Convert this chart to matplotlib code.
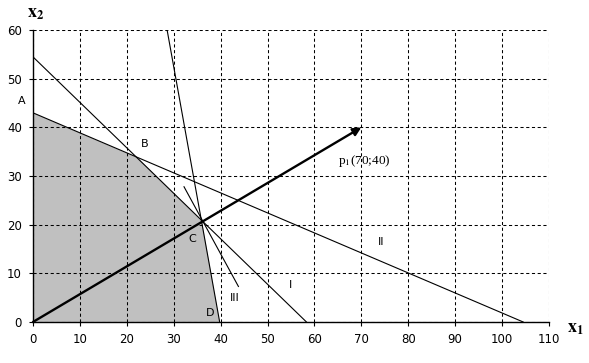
import matplotlib
matplotlib.use("Agg")
import matplotlib.pyplot as plt

plt.rcParams["mathtext.fontset"] = "stix"

# constraint lines (endpoints)
line_I_x = [0, 58.3]
line_I_y = [54.5, 0]
line_II_x = [0, 104.5]
line_II_y = [43, 0]
line_steep_x = [28.6, 39.8]
line_steep_y = [60, 0]
line_III_x = [32.2, 43.8]
line_III_y = [27.8, 7.3]

# feasible region O-A-B-C-D
region_x = [0, 0, 22.4, 36.0, 39.8]
region_y = [0, 43, 33.7, 20.8, 0]

# gradient vector p1
p1 = (70, 40)

point_labels = ["A", "B", "C", "D"]
point_pos = [(-3.2, 44.5), (23.0, 35.5), (33.2, 16.0), (36.8, 0.8)]
line_labels = ["I", "II", "III"]
line_pos = [(54.5, 6.5), (73.5, 15.5), (42.0, 4.0)]

fig = plt.figure(figsize=(5.89, 3.63), dpi=100)
ax = fig.add_axes([0.056, 0.113, 0.876, 0.804])

ax.fill(region_x, region_y, color="#c0c0c0", zorder=1, lw=0)
for xs, ys in [(line_I_x, line_I_y), (line_II_x, line_II_y),
               (line_steep_x, line_steep_y), (line_III_x, line_III_y)]:
    ax.plot(xs, ys, color="black", lw=0.8, zorder=3)

ax.annotate("", xy=p1, xytext=(0, 0),
            arrowprops=dict(arrowstyle="-|>", color="black", lw=1.7,
                            mutation_scale=12, shrinkA=0, shrinkB=0),
            zorder=4)

for lab, (x, y) in zip(point_labels, point_pos):
    ax.text(x, y, lab, fontsize=8, ha="left", va="bottom", clip_on=False)
for lab, (x, y) in zip(line_labels, line_pos):
    ax.text(x, y, lab, fontsize=8, ha="left", va="bottom")

ax.text(65, 32.5, r"p$_1$(70;40)", fontsize=9.5, family="Liberation Serif")

ax.set_xlim(0, 110)
ax.set_ylim(0, 60)
ax.set_xticks(range(0, 111, 10))
ax.set_yticks(range(0, 61, 10))
ax.tick_params(labelsize=8.5, length=3, width=0.8, direction="out", pad=5)
ax.grid(True, color="black", linestyle=(0, (3, 2.5)), lw=0.75, zorder=2)
ax.set_axisbelow(False)
for s in ["top", "right"]:
    ax.spines[s].set_visible(False)
for s in ["left", "bottom"]:
    ax.spines[s].set_linewidth(1.0)

fig.text(0.046, 0.952, r"$\mathbf{x_2}$", fontsize=13)
fig.text(0.963, 0.085, r"$\mathbf{x_1}$", fontsize=13)

fig.savefig("out.png", dpi=100)
